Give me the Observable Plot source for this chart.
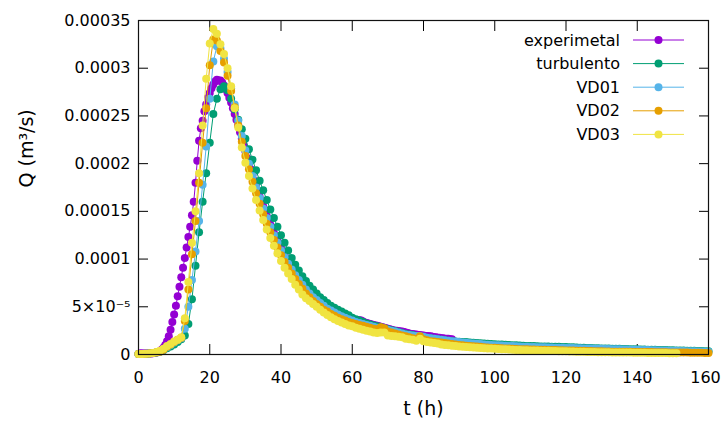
<!DOCTYPE html>
<html><head><meta charset="utf-8">
<script src="https://cdn.jsdelivr.net/npm/d3@7"></script>
<script src="https://cdn.jsdelivr.net/npm/@observablehq/plot@0.6"></script>
<style>body{margin:0;background:#fff}</style>
</head><body><div id="chart"></div>
<script>
// Q values in units of 1e-6 m^3/s
// experimental: sampled every 0.5 h from t = 0 to 88 h
const expQ = [0.5,1.4,1,1,1,1,1,1,1.2,1.5,
 2,2.5,3.5,5,7,10,14,19,26,34,
 42,51,61,71,81,91,101,112,123,134,
 146,160,180,203,224,237,245,255,262,269,
 274,279,283,286,288,287,287,285,282,278,
 274,269,264,258,252,246,240,233,226,219,
 213,206,200,194,188,182,176,170,165,160,
 155,150,145,140,136,131,127,123,119,115,
 111,107,104,100,97,94,91,88,85,82,
 80,77,75,72,70,68,66,64,62,60,
 58,57,55,54,52,51,49.5,48,47,46,
 45,44,43,42,41,40,39.5,38.5,38,37.5,
 37,36.5,36,36,36,35.5,34.5,33.5,33,32.5,
 32,31.5,31,30.5,30,29.5,29,28.5,28,27.5,
 27,26.5,26,25.5,25,25,24.5,24,24,23.5,
 23,22.5,22,21.5,21.5,21,21,20.5,20.5,20,
 20,19.5,19.5,19,19,18.5,18,18,17.5,17.5,
 17,17,16.5,16.5,16.5,16,16];
// models: sampled every 1 h
const turbQ = [0.5,0.5,0.8,1,1.5,2,3,4.5,6.5,8.5,
 10.5,13,16,20,32,58,93,128,160,190,
 222,252,268,278,281,277,268,257,246,236,
 226,215,204,193,182,172,162,152,143,134,
 125,117,109,101,94,88,82,77,72,68,
 64,60,57,54,51,49,47,45,43,41,
 38.5,37,35.5,34,32.5,31.5,30.5,29.5,28.5,27.5,
 26.5,25.5,24.5,23.5,22.5,21.5,21,20.5,19.5,19,
 18,17.5,17,16.5,16,15.5,15,14.5,14,13.7,
 13.4,13.2,13,12.7,12.4,12,11.8,11.5,11.2,11,
 10.8,10.6,10.4,10.2,10,9.8,9.6,9.4,9.2,9,
 8.9,8.8,8.6,8.5,8.4,8.3,8.2,8.1,8,7.9,
 7.8,7.6,7.5,7.4,7.2,7,6.9,6.8,6.6,6.5,
 6.4,6.3,6.2,6.1,6,5.9,5.8,5.7,5.6,5.5,
 5.4,5.3,5.2,5.1,5,4.9,4.8,4.7,4.6,4.5,
 4.4,4.3,4.2,4.1,4,3.9,3.8,3.7,3.6,3.5,3.4];
const vd01Q = [0.5,0.5,0.8,1,1.5,2,3,5,7.5,10,
 12.5,15,17,27,50,78,108,140,178,218,
 268,307,323,321,310,296,279,262,245,229,
 214,200,187,175,164,153,143,134,125,117,
 109,102,95,89,83,78,73,68,64,60,
 57,54,51,48,46,44,42,40,38.5,37,
 35.5,34,33,32,31,30,29,28,27.5,27,
 26,25,24,23,22,21,20.5,20,19.5,19.5,
 18.5,17.5,17,16.5,16,15.5,15,14.5,14,13.5,
 13,12.6,12.2,11.8,11.5,11.2,10.9,10.6,10.3,10,
 9.8,9.6,9.4,9.2,9,8.8,8.6,8.4,8.2,8,
 7.9,7.8,7.7,7.6,7.5,7.4,7.3,7.2,7.1,7,
 6.9,6.8,6.7,6.6,6.5,6.4,6.3,6.2,6.1,6,
 5.9,5.8,5.7,5.6,5.5,5.4,5.3,5.2,5.1,5,
 4.9,4.8,4.7,4.6,4.5,4.4,4.3,4.2,4.1,4,
 3.9,3.8,3.7,3.6,3.5,3.4,3.3,3.2,3.1,3,2.9];
const vd02Q = [0.5,0.5,0.8,1,1.5,2,3,5,8,10.5,
 13,15.5,17.5,35,68,105,140,180,222,258,
 303,330,329,318,306,292,276,259,240,223,
 208,194,181,169,158,147,137,128,120,112,
 104,97,91,85,79,74,69,64,60,56,
 53,50,47,45,42.5,40.5,38.5,37,35.5,34,
 33,32,31,30,29,28,27,26.5,28.5,27.5,
 24,23,22,21,20,19,18,17,16.5,19,
 16,15,14,13.5,13,12.5,12,11.5,11,10.5,
 10,9.6,9.2,8.9,8.6,8.3,8,7.7,7.4,7.2,
 7,6.8,6.6,6.4,6.2,6,5.8,5.6,5.5,5.4,
 5.3,5.2,5.1,5,4.9,4.8,4.7,4.6,4.5,4.4,
 4.3,4.2,4.1,4,3.9,3.8,3.7,3.6,3.5,3.4,
 3.3,3.2,3.1,3,3,2.9,2.9,2.8,2.8,2.7,
 2.7,2.6,2.6,2.5,2.5,2.4,2.4,2.3,2.3,2.2,
 2.2,2.1,2.1,2,2,1.9,1.9,1.8,1.8,1.7,1.7];
const vd03Q = [0.5,0.5,0.8,1,1.5,2.5,4,6,9,11,
 13.5,15.5,18,38,76,117,150,190,240,289,
 326,341,336,325,315,300,281,258,238,217,
 201,187,174,162,151,141,131,122,114,106,
 98,91,85,79,73,68,63,59,56,53,
 50,47,44,41.5,39,37,35,33.5,32,30.5,
 29.5,28,27,26,25,24,23,22.5,23,23,
 20,19.5,19,18.5,18,16.5,16,15.5,14.5,16.5,
 14,13,12.5,12,11.5,10.5,10,9.7,9.2,8.8,
 8.5,8.2,7.9,7.6,7.3,7,6.8,6.6,6.4,6.2,
 6,5.8,5.6,5.4,5.2,5,4.8,4.6,4.5,4.4,
 4.3,4.2,4.1,4,3.9,3.8,3.7,3.6,3.5,3.4,
 3.3,3.2,3.1,3,2.9,2.8,2.7,2.6,2.5,2.4,
 2.4,2.3,2.3,2.2,2.2,2.1,2.1,2,2,1.9,
 1.9,1.8,1.8,1.7,1.7,1.6,1.6,1.5,1.5,1.4,1.4,1.3];

const seriesNames = ["experimetal","turbulento","VD01","VD02","VD03"];
const seriesColors = ["#9400d3","#009e73","#56b4e9","#e69f00","#f0e442"];
const seriesValues = [expQ, turbQ, vd01Q, vd02Q, vd03Q];
const seriesStep = [0.5, 1, 1, 1, 1];
const unit = 1e-6;

const xTicks = [0,20,40,60,80,100,120,140,160];
const xTicksInner = [0,20,40,60,80,100,120,140];
const xTickLast = [160];
const yTicks = [0,0.00005,0.0001,0.00015,0.0002,0.00025,0.0003,0.00035];
const yTickLabels = ["0","5×10⁻⁵","0.0001","0.00015","0.0002","0.00025","0.0003","0.00035"];

const series = seriesValues.map((vals, s) =>
  vals.map((q, i) => ({t: i * seriesStep[s], Q: q * unit})));

const marks = [];
series.forEach((data, s) => {
  marks.push(Plot.line(data, {x: "t", y: "Q", stroke: seriesColors[s], strokeWidth: 1}));
  marks.push(Plot.dot(data, {x: "t", y: "Q", r: 4, fill: seriesColors[s], stroke: "none"}));
});

const chart = Plot.plot({
  width: 721, height: 426,
  marginLeft: 138, marginRight: 13, marginTop: 20, marginBottom: 72,
  style: {fontFamily: "DejaVu Sans", fontSize: "16px", color: "#000", background: "#fff"},
  x: {domain: [0,160]},
  y: {domain: [0,0.00035]},
  marks: [
    Plot.axisX(xTicks, {anchor: "bottom", tickSize: -10, tickFormat: () => "", label: null, stroke: "#000"}),
    Plot.axisX(xTicksInner, {anchor: "bottom", tickSize: 0, tickPadding: 17, label: null, fontSize: 16}),
    Plot.axisX(xTickLast, {anchor: "bottom", tickSize: 0, tickPadding: 17, label: null, fontSize: 16, dx: -3}),
    Plot.axisX(xTicks, {anchor: "top", tickSize: -10, tickFormat: () => "", label: null, stroke: "#000"}),
    Plot.axisY(yTicks, {anchor: "left", tickSize: -10, tickPadding: 18, label: null, fontSize: 16,
      tickFormat: (d) => yTickLabels[yTicks.indexOf(d)], stroke: "#000"}),
    Plot.axisY(yTicks, {anchor: "right", tickSize: -10, tickFormat: () => "", label: null, stroke: "#000"}),
    ...marks,
    Plot.frame({stroke: "#111", strokeWidth: 1.2}),
    Plot.text(["t (h)"], {frameAnchor: "bottom", dy: 60, fontSize: 19, fill: "#000"}),
    Plot.text(["Q (m³/s)"], {frameAnchor: "left", dx: -112, rotate: -90, fontSize: 19, fill: "#000"})
  ]
});
document.getElementById("chart").appendChild(chart);

// legend (gnuplot-style key, top right inside the frame)
const svg = d3.select(chart);
const key = svg.append("g").attr("font-family", "DejaVu Sans").attr("font-size", 16);
seriesNames.forEach((name, i) => {
  const y = 40 + i * 23.6;
  key.append("text").attr("x", 620).attr("y", y).attr("dy", "0.35em")
    .attr("text-anchor", "end").attr("fill", "#000").text(name);
  key.append("line").attr("x1", 633).attr("x2", 684).attr("y1", y).attr("y2", y)
    .attr("stroke", seriesColors[i]).attr("stroke-width", 1);
  key.append("circle").attr("cx", 658.5).attr("cy", y).attr("r", 4).attr("fill", seriesColors[i]);
});
</script>
</body></html>
